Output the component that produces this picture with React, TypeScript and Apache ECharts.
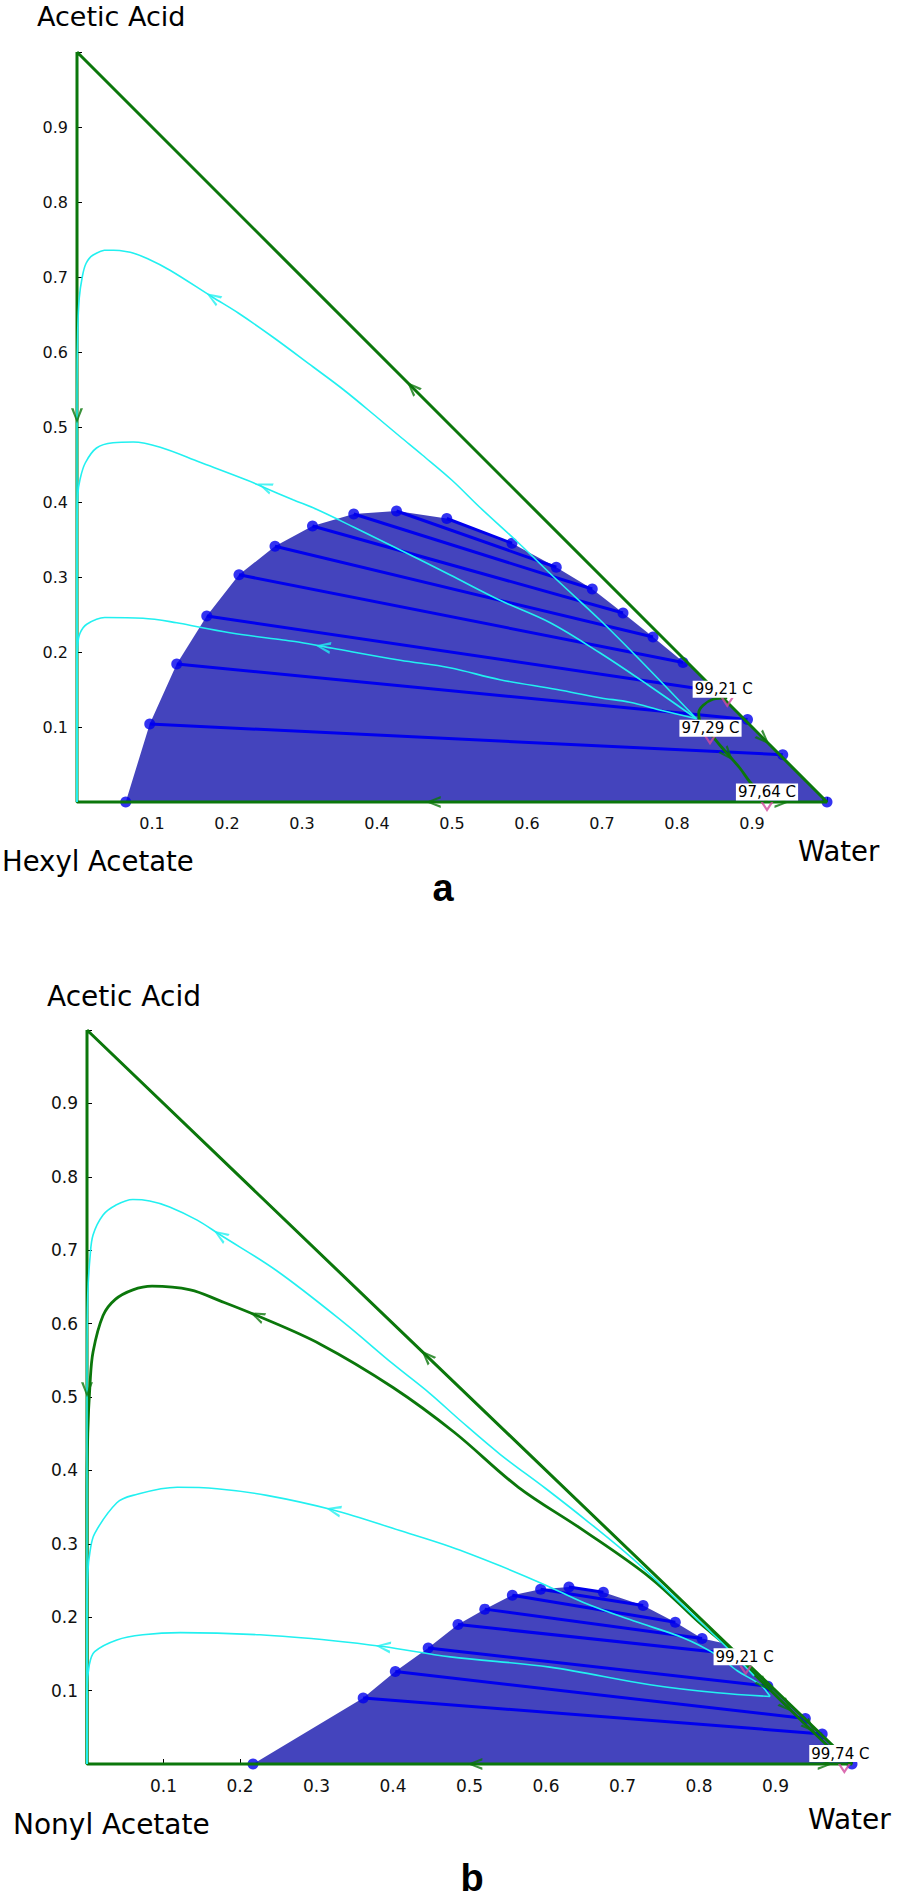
import React, { useEffect, useRef } from "react";
import * as echarts from "echarts";

// ---------------- shared ----------------
const AXIS_TICKS = [0.1, 0.2, 0.3, 0.4, 0.5, 0.6, 0.7, 0.8, 0.9];
const TRIANGLE = [[0, 1], [0, 0], [1, 0], [0, 1]];

// ---------------- panel a : Hexyl Acetate ----------------
const A_NAMES = ["Acetic Acid", "Hexyl Acetate", "Water"];
const A_PANEL = "a";
const A_ENVELOPE = [
  [0.065, 0], [0.097, 0.104], [0.133, 0.184], [0.173, 0.248], [0.216, 0.303], [0.264, 0.341],
  [0.314, 0.368], [0.369, 0.384], [0.426, 0.388], [0.493, 0.378], [0.58, 0.345], [0.639, 0.313],
  [0.687, 0.284], [0.728, 0.252], [0.768, 0.22], [0.808, 0.187], [0.813, 0.187], [1, 0],
];
const A_DOTS = [
  [0.065, 0], [0.097, 0.104], [0.133, 0.184], [0.173, 0.248], [0.216, 0.303], [0.264, 0.341],
  [0.314, 0.368], [0.369, 0.384], [0.426, 0.388], [0.493, 0.378], [0.58, 0.345], [0.639, 0.313],
  [0.687, 0.284], [0.728, 0.252], [0.768, 0.22], [0.808, 0.186], [0.85, 0.148], [0.894, 0.11],
  [0.941, 0.063], [1, 0],
];
const A_TIES = [
  [[0.097, 0.104], [0.941, 0.063]],
  [[0.133, 0.184], [0.894, 0.11]],
  [[0.173, 0.248], [0.85, 0.148]],
  [[0.216, 0.303], [0.808, 0.186]],
  [[0.264, 0.341], [0.768, 0.22]],
  [[0.314, 0.368], [0.728, 0.252]],
  [[0.369, 0.384], [0.687, 0.284]],
  [[0.426, 0.388], [0.639, 0.313]],
  [[0.493, 0.378], [0.58, 0.345]],
];
const A_CYAN_1 = [
  [0.826, 0.111], [0.75, 0.19], [0.697, 0.243], [0.64, 0.296], [0.587, 0.347], [0.537, 0.393],
  [0.5, 0.429], [0.46, 0.463], [0.431, 0.487], [0.4, 0.513], [0.355, 0.55], [0.315, 0.58],
  [0.261, 0.62], [0.215, 0.652], [0.181, 0.673], [0.124, 0.709], [0.095, 0.724], [0.071, 0.733],
  [0.041, 0.736], [0.021, 0.729], [0.012, 0.718], [0.007, 0.7], [0.003, 0.672], [0.001, 0.63],
  [0, 0.55], [0, 0],
];
const A_CYAN_2 = [
  [0.826, 0.111], [0.76, 0.157], [0.697, 0.199], [0.631, 0.239], [0.564, 0.269], [0.497, 0.303],
  [0.431, 0.336], [0.37, 0.366], [0.32, 0.39], [0.288, 0.403], [0.248, 0.42], [0.227, 0.429],
  [0.164, 0.453], [0.111, 0.473], [0.075, 0.48], [0.048, 0.479], [0.026, 0.472], [0.011, 0.452],
  [0.004, 0.43], [0.001, 0.41], [0, 0.35], [0, 0],
];
const A_CYAN_3 = [
  [0.826, 0.111], [0.78, 0.122], [0.737, 0.133], [0.697, 0.139], [0.64, 0.15], [0.564, 0.163],
  [0.497, 0.179], [0.431, 0.189], [0.341, 0.205], [0.297, 0.213], [0.275, 0.216], [0.208, 0.225],
  [0.164, 0.233], [0.133, 0.239], [0.088, 0.245], [0.037, 0.246], [0.013, 0.237], [0.004, 0.225],
  [0.001, 0.21], [0, 0.18], [0, 0],
];
const A_GREEN_LOOP = [
  [0.867, 0.139], [0.848, 0.137], [0.835, 0.129], [0.829, 0.119], [0.831, 0.107], [0.844, 0.092],
  [0.857, 0.076], [0.871, 0.06], [0.884, 0.045], [0.897, 0.027], [0.911, 0.012], [0.92, 0],
];
// [x, y, dirX, dirY]
const A_GREEN_ARROWS = [
  [0.447, 0.553, -1, 1], [0, 0.515, 0, -1], [0.475, 0, -1, 0],
  [0.916, 0.084, 1, -1], [0.868, 0.063, 0.027, -0.031], [0.94, 0, 1, 0],
];
const A_CYAN_ARROWS = [
  [0.181, 0.673, -0.057, 0.036], [0.25, 0.421, -0.084, 0.033], [0.328, 0.207, -0.09, 0.015],
];
const A_AZEO = [[0.867, 0.139], [0.844, 0.089], [0.92, 0]];
const A_AZEO_NAMES = ["99,21 C", "97,29 C", "97,64 C"];
const A_AZEO_SHIFT = [[-3.5, -8.5], [0.5, -7], [0, -10]];

// ---------------- panel b : Nonyl Acetate ----------------
const B_NAMES = ["Acetic Acid", "Nonyl Acetate", "Water"];
const B_PANEL = "b";
const B_ENVELOPE = [
  [0.217, 0], [0.361, 0.09], [0.403, 0.126], [0.446, 0.158], [0.485, 0.19], [0.52, 0.211],
  [0.556, 0.23], [0.593, 0.238], [0.63, 0.241], [0.675, 0.234], [0.727, 0.216], [0.769, 0.193],
  [0.804, 0.171], [0.834, 0.164], [1, 0],
];
const B_DOTS = [
  [0.217, 0], [0.361, 0.09], [0.403, 0.126], [0.446, 0.158], [0.485, 0.19], [0.52, 0.211],
  [0.556, 0.23], [0.593, 0.238], [0.63, 0.241], [0.675, 0.234], [0.727, 0.216], [0.769, 0.193],
  [0.804, 0.171], [0.845, 0.15], [0.89, 0.106], [0.939, 0.062], [0.961, 0.041], [1, 0],
];
const B_TIES = [
  [[0.63, 0.241], [0.675, 0.234]],
  [[0.593, 0.238], [0.727, 0.216]],
  [[0.556, 0.23], [0.769, 0.193]],
  [[0.52, 0.211], [0.804, 0.171]],
  [[0.485, 0.19], [0.845, 0.15]],
  [[0.446, 0.158], [0.89, 0.106]],
  [[0.403, 0.126], [0.939, 0.062]],
  [[0.361, 0.09], [0.961, 0.041]],
];
const B_CYAN_1 = [
  [0.872, 0.12], [0.837, 0.158], [0.805, 0.19], [0.714, 0.279], [0.655, 0.33], [0.6, 0.375],
  [0.54, 0.422], [0.488, 0.468], [0.448, 0.505], [0.4, 0.545], [0.335, 0.602], [0.248, 0.672],
  [0.174, 0.721], [0.144, 0.741], [0.108, 0.759], [0.082, 0.767], [0.06, 0.769], [0.037, 0.761],
  [0.021, 0.748], [0.008, 0.721], [0.004, 0.691], [0.001, 0.64], [0, 0.55], [0, 0],
];
const B_CYAN_2 = [
  [0.893, 0.092], [0.88, 0.108], [0.85, 0.127], [0.824, 0.148], [0.779, 0.172], [0.714, 0.195],
  [0.649, 0.22], [0.599, 0.244], [0.54, 0.27], [0.475, 0.296], [0.409, 0.318], [0.322, 0.346],
  [0.235, 0.366], [0.17, 0.375], [0.118, 0.377], [0.06, 0.366], [0.039, 0.356], [0.01, 0.314],
  [0.004, 0.29], [0.001, 0.26], [0, 0.2], [0, 0],
];
const B_CYAN_3 = [
  [0.893, 0.092], [0.824, 0.097], [0.736, 0.108], [0.605, 0.132], [0.475, 0.146], [0.387, 0.16],
  [0.322, 0.168], [0.226, 0.176], [0.122, 0.179], [0.073, 0.176], [0.039, 0.169], [0.01, 0.153],
  [0.003, 0.135], [0, 0.1], [0, 0],
];
const B_SEPARATRIX = [
  [0.861, 0.134], [0.837, 0.16], [0.801, 0.192], [0.736, 0.254], [0.648, 0.319], [0.564, 0.377],
  [0.48, 0.452], [0.4, 0.513], [0.305, 0.572], [0.222, 0.611], [0.174, 0.631], [0.135, 0.646],
  [0.085, 0.651], [0.06, 0.646], [0.037, 0.633], [0.021, 0.611], [0.008, 0.562], [0.004, 0.519],
  [0.001, 0.45], [0, 0.35], [0, 0],
];
const B_GREEN_EDGE = [[0.861, 0.134], [0.93, 0.063], [0.985, 0.008]];
const B_GREEN_ARROWS = [
  [0.444, 0.556, -1, 1], [0, 0.51, 0, -1], [0.507, 0, -1, 0], [0.222, 0.611, -0.131, 0.059],
  [0.885, 0.108, 1, -1], [0.915, 0.078, 1, -1], [0.945, 0.05, 1, -1], [0.965, 0, 1, 0],
];
const B_CYAN_ARROWS = [
  [0.174, 0.721, -0.104, 0.069], [0.322, 0.346, -0.087, 0.02], [0.387, 0.16, -0.065, 0.008],
];
const B_AZEO = [[0.861, 0.134], [0.99, 0]];
const B_AZEO_NAMES = ["99,21 C", "99,74 C"];
const B_AZEO_SHIFT = [[-1, -9], [-4, -10.5]];

// ---------------- styles ----------------
const GREEN = "#0b770b";
const CYAN = "#22f0f0";
const FILL = "#4444bd";
const TIE = "#0000ee";
const DOT = "#0000ee";
const PINK = "#d24a9e";
const ARROW = "path://M12,6 L0,0 L0,2.6 L8.4,6 L0,9.4 L0,12 Z";
const VMARK = "path://M0,0 L6,10 L12,0 L9.6,0 L6,6 L2.4,0 Z";

type Panel = {
  envelope: number[][];
  dots: number[][];
  ties: number[][][];
  cyan: number[][][];
  green: number[][][];
  greenArrows: number[][];
  cyanArrows: number[][];
  azeo: number[][];
  azeoNames: string[];
  azeoShift: number[][];
};

const PANELS: Panel[] = [
  {
    envelope: A_ENVELOPE, dots: A_DOTS, ties: A_TIES, cyan: [A_CYAN_1, A_CYAN_2, A_CYAN_3],
    green: [A_GREEN_LOOP], greenArrows: A_GREEN_ARROWS, cyanArrows: A_CYAN_ARROWS,
    azeo: A_AZEO, azeoNames: A_AZEO_NAMES, azeoShift: A_AZEO_SHIFT,
  },
  {
    envelope: B_ENVELOPE, dots: B_DOTS, ties: B_TIES, cyan: [B_CYAN_1, B_CYAN_2, B_CYAN_3],
    green: [B_SEPARATRIX, B_GREEN_EDGE], greenArrows: B_GREEN_ARROWS, cyanArrows: B_CYAN_ARROWS,
    azeo: B_AZEO, azeoNames: B_AZEO_NAMES, azeoShift: B_AZEO_SHIFT,
  },
];

const GRIDS = [
  { left: 77, top: 52, width: 750, height: 750 },
  { left: 87, top: 1030, width: 765, height: 734 },
];
const TICK_FONT = [16, 17];

const fmt = (v: number) => (AXIS_TICKS.some((t) => Math.abs(t - v) < 1e-6) ? v.toFixed(1) : "");

function axis(i: number, isX: boolean) {
  return {
    type: "value",
    gridIndex: i,
    min: 0,
    max: 1,
    interval: 0.1,
    axisLine: { show: false },
    splitLine: { show: false },
    axisTick: { show: true, inside: true, length: 5, lineStyle: { color: "#000", width: 1 } },
    axisLabel: {
      formatter: fmt,
      fontSize: TICK_FONT[i],
      fontFamily: "DejaVu Sans",
      color: "#111",
      margin: isX ? 13 : 9,
    },
  };
}

function arrowData(list: number[][]) {
  return list.map(([x, y, dx, dy]) => ({
    value: [x, y],
    symbolRotate: (Math.atan2(dy, dx) * 180) / Math.PI,
  }));
}

function panelSeries(i: number, p: Panel) {
  const base = { xAxisIndex: i, yAxisIndex: i, silent: true, clip: false };
  const s: any[] = [];
  s.push({
    ...base, type: "line", data: p.envelope, symbol: "none",
    lineStyle: { width: 0, opacity: 0 }, areaStyle: { color: FILL, opacity: 1 }, z: 1,
  });
  s.push({
    ...base, type: "lines", coordinateSystem: "cartesian2d",
    data: p.ties.map((c) => ({ coords: c })),
    lineStyle: { color: TIE, width: 3, opacity: 1 }, z: 2,
  });
  s.push({
    ...base, type: "scatter", data: p.dots, symbol: "circle", symbolSize: 11,
    itemStyle: { color: DOT }, z: 3,
  });
  s.push({
    ...base, type: "line", data: TRIANGLE, symbol: "none",
    lineStyle: { color: GREEN, width: 3 }, z: 5,
  });
  p.green.forEach((g) =>
    s.push({
      ...base, type: "line", data: g, symbol: "none", smooth: 0.35,
      lineStyle: { color: GREEN, width: 2.8 }, z: 5,
    })
  );
  p.cyan.forEach((c) =>
    s.push({
      ...base, type: "line", data: c, symbol: "none", smooth: 0.35,
      lineStyle: { color: CYAN, width: 1.6 }, z: 6,
    })
  );
  s.push({
    ...base, type: "scatter", data: arrowData(p.greenArrows), symbol: ARROW,
    symbolSize: [15, 12], itemStyle: { color: GREEN }, z: 8,
  });
  s.push({
    ...base, type: "scatter", data: arrowData(p.cyanArrows), symbol: ARROW,
    symbolSize: [15, 12], itemStyle: { color: CYAN }, z: 8,
  });
  s.push({
    ...base, type: "scatter", data: p.azeo, symbol: VMARK, symbolSize: [13, 10],
    symbolOffset: [0, 5], itemStyle: { color: PINK }, z: 9,
  });
  s.push({
    ...base, type: "scatter", symbol: "circle", symbolSize: 2,
    itemStyle: { color: "rgba(255,255,255,0)" }, z: 10,
    data: p.azeo.map((v, k) => ({
      value: v,
      name: p.azeoNames[k],
      label: { offset: p.azeoShift[k] },
    })),
    label: {
      show: true,
      position: "inside",
      formatter: (q: any) => q.name,
      color: "#000",
      fontSize: 15,
      fontFamily: "DejaVu Sans",
      backgroundColor: "#ffffff",
      padding: [1, 2, 0, 2],
      lineHeight: 16,
      opacity: 1,
    },
  });
  return s;
}

function txt(text: string, x: number, y: number, size: number, opts: any = {}) {
  return {
    type: "text",
    x,
    y,
    silent: true,
    z: 100,
    style: {
      text,
      fontSize: size,
      fontFamily: opts.family || "DejaVu Sans",
      fontWeight: opts.weight || "normal",
      fill: "#000",
      align: opts.align || "left",
      verticalAlign: "middle",
    },
  };
}

function buildOption() {
  return {
    animation: false,
    backgroundColor: "#fff",
    grid: GRIDS.map((g) => ({ ...g, containLabel: false })),
    xAxis: [axis(0, true), axis(1, true)],
    yAxis: [axis(0, false), axis(1, false)],
    series: [...panelSeries(0, PANELS[0]), ...panelSeries(1, PANELS[1])],
    graphic: [
      txt(A_NAMES[0], 37, 16, 27),
      txt(A_NAMES[1], 2, 861, 27.5),
      txt(A_NAMES[2], 798, 851, 27.5),
      txt(A_PANEL, 443, 888, 38, { weight: "bold", family: "Liberation Sans", align: "center" }),
      txt(B_NAMES[0], 47, 996, 28),
      txt(B_NAMES[1], 13, 1824, 28),
      txt(B_NAMES[2], 808, 1819, 28),
      txt(B_PANEL, 472, 1878, 38, { weight: "bold", family: "Liberation Sans", align: "center" }),
    ],
  };
}

export default function App() {
  const ref = useRef<HTMLDivElement>(null);
  useEffect(() => {
    if (!ref.current) return;
    const chart = echarts.init(ref.current, undefined, { renderer: "svg" });
    chart.setOption(buildOption() as any);
    return () => chart.dispose();
  }, []);
  return (
    <div
      ref={ref}
      style={{ position: "absolute", left: 0, top: 0, width: 898, height: 1901, background: "#fff" }}
    />
  );
}
